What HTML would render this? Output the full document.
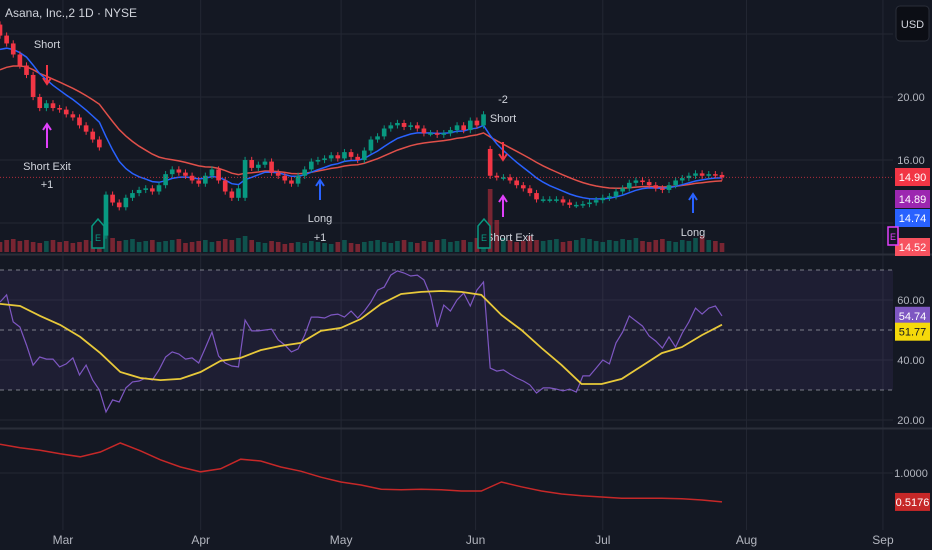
<!DOCTYPE html>
<html><head><meta charset="utf-8"><style>
html,body{margin:0;padding:0;background:#141823;}
svg{display:block;font-family:"Liberation Sans",sans-serif;}
</style></head><body>
<svg id="chart" width="932" height="550" viewBox="0 0 932 550" xmlns="http://www.w3.org/2000/svg">
<rect x="0" y="0" width="932" height="550" fill="#141823"/>
<g id="grid"></g>
<rect x="0" y="270" width="893" height="120" fill="#7e57c2" fill-opacity="0.1"/>
<g id="layer"></g>
<line x1="0" y1="254.5" x2="932" y2="254.5" stroke="#2a2e39" stroke-width="2"/>
<line x1="0" y1="428.5" x2="932" y2="428.5" stroke="#2a2e39" stroke-width="2"/>
<text x="5" y="17" fill="#d1d4dc" font-size="12">Asana, Inc.,2 1D · NYSE</text>
<g><rect x="896" y="6" width="33" height="35" rx="4" fill="#0c0e15" stroke="#2a2e39"/><text x="912.5" y="28" fill="#d1d4dc" font-size="11" text-anchor="middle">USD</text></g>
<g id="axis"></g>
<g id="marks"></g>
</svg>
<script>
const closes=[23.9,23.4,22.7,22.0,21.4,20.0,19.3,19.6,19.3,19.2,18.9,18.7,18.2,17.8,17.3,16.8,13.8,13.3,13.0,13.6,13.9,14.1,14.2,14.0,14.4,15.1,15.4,15.2,15.0,14.7,14.5,15.0,15.4,14.7,14.0,13.6,14.2,16.0,15.5,15.7,15.9,15.2,15.0,14.7,14.5,15.0,15.4,15.9,16.0,16.1,16.3,16.1,16.5,16.2,16.0,16.6,17.3,17.5,18.0,18.2,18.35,18.1,18.2,18.0,17.7,17.7,17.6,17.7,17.9,18.2,17.9,18.5,18.2,18.9,15.0,14.9,14.9,14.7,14.4,14.2,13.9,13.5,13.5,13.5,13.5,13.3,13.15,13.15,13.2,13.3,13.45,13.6,13.7,14.0,14.2,14.55,14.7,14.6,14.4,14.2,14.1,14.4,14.7,14.85,15.0,15.15,15.0,15.1,15.05,14.9];
const gapOpenIdx=[0,16,37,74];
const gapOpenVal=[24.6,11.2,13.6,16.7];
const volumes=[10,12,13,11,12,10,9,11,12,10,11,9,10,12,11,14,30,14,11,12,13,10,11,12,10,11,12,13,9,10,11,12,10,11,13,12,14,16,12,10,9,11,10,8,9,10,9,11,10,9,8,10,12,9,8,10,11,12,10,9,11,12,10,9,11,10,12,13,10,11,12,10,14,20,63,32,14,12,10,11,16,12,11,12,13,10,11,12,14,13,11,10,12,11,13,12,14,11,10,12,13,11,10,12,11,14,16,12,11,9];
const rsiValues=[59.3,61.7,52.7,51,45,38.3,41,40.3,40.3,37.7,38.7,40.7,35,38.3,33.3,30,22.7,26.7,26,30.7,32.7,33,34,33.3,36.7,41,42.7,42,40.3,40.7,39,44,49.3,41.3,39,38,37.7,53.3,49.7,49.7,50,50.3,46.7,45,42.7,43.7,48.3,54.3,54.3,54,55,55.3,54.3,56.3,54,56.3,59.3,63.3,64.3,68.3,69.7,69,68,68.3,66.7,61.3,51,58.3,56.3,60,62.3,58,63.3,66,37.3,36.3,36.7,35.3,34,33,31.7,29,30.7,30.7,30.3,29.7,30.3,29.3,34.7,34.7,37.3,40,38.7,45.7,49.3,54.7,53,51.3,48,46.3,44,47.7,44.3,49,52.7,57.3,55.3,57.3,58,54.7];
const rsiMA=[58.7,58,54.7,51.7,47.7,42.3,36,34,33.3,33.7,36,39.7,40.7,43.3,44.7,45.7,49.7,50.7,53.7,58.7,62,62.7,63,62.7,61.7,55,50,44,38.3,32,32,33.7,38,42.3,44.3,48.3,51.77];
const ratioValues=[1.48,1.42,1.38,1.32,1.27,1.35,1.5,1.37,1.22,1.1,1.02,1.07,1.23,1.2,1.1,1.03,0.93,0.85,0.8,0.73,0.72,0.73,0.72,0.7,0.7,0.85,0.77,0.7,0.65,0.62,0.6,0.58,0.58,0.58,0.57,0.55,0.5176];
const priceTicks=["20.00","16.00"];
const priceTickVals=[20,16];
const rsiTicks=["60.00","40.00","20.00"];
const rsiTickVals=[60,40,20];
const monthLabels=["Mar","Apr","May","Jun","Jul","Aug","Sep"];
const monthBarPos=[9.5,30.3,51.5,71.8,91,112.7,133.3];
const maSeeds=[21.5,22.8];

const NS="http://www.w3.org/2000/svg";
const PLOT_W=893, LAST_X=722;
const xBar=i=>i*LAST_X/(closes.length-1);
const xSparse=(i,n)=>i*LAST_X/(n-1);
const yPrice=p=>97+(20-p)*15.75;
const yRsi=v=>330-(v-50)*3;
const yRatio=v=>473+(1-v)*60;
function mk(tag,attrs,parent){const e=document.createElementNS(NS,tag);for(const k in attrs)e.setAttribute(k,attrs[k]);parent.appendChild(e);return e;}
const grid=document.getElementById('grid'),layer=document.getElementById('layer'),axis=document.getElementById('axis'),marks=document.getElementById('marks');

[24,20,16,12].forEach(p=>{const l=mk('line',{x1:0,x2:PLOT_W,y1:yPrice(p),y2:yPrice(p),stroke:'#232733'},grid);});
[60,40,20].forEach(v=>{const l=mk('line',{x1:0,x2:PLOT_W,y1:yRsi(v),y2:yRsi(v),stroke:'#232733'},grid);});
{const l=mk('line',{x1:0,x2:PLOT_W,y1:yRatio(1),y2:yRatio(1),stroke:'#232733'},grid);}
monthBarPos.forEach((b,i)=>{const x=xBar(b);const l=mk('line',{x1:x,x2:x,y1:0,y2:530,stroke:'#232733'},grid);
 const t=mk('text',{x:x,y:544,fill:'#b2b5be','font-size':12,'text-anchor':'middle'},axis);t.textContent=monthLabels[i];});

[70,50,30].forEach(v=>{const l=mk('line',{x1:0,x2:PLOT_W,y1:yRsi(v),y2:yRsi(v),stroke:'#9598a1','stroke-dasharray':'4 4','stroke-opacity':0.8},layer);});

const opens=closes.map((c,i)=>{const g=gapOpenIdx.indexOf(i);return g>=0?gapOpenVal[g]:(i>0?closes[i-1]:c);});
const bw=xBar(1)*0.7;
volumes.forEach((v,i)=>{const up=closes[i]>=opens[i];const r=mk('rect',{x:xBar(i)-bw/2,y:252-v,width:bw,height:v,fill:up?'#089981':'#f23645','fill-opacity':0.45},layer);});

function ema(arr,n,seed){const k=2/(n+1);let e=seed;return arr.map(v=>(e=v*k+e*(1-k)));}
function pathOf(vals,xf,yf){return vals.map((v,i)=>(i?'L':'M')+xf(i).toFixed(1)+' '+yf(v).toFixed(1)).join(' ');}
const emaSlow=ema(closes,20,maSeeds[0]),emaFast=ema(closes,9,maSeeds[1]);
{const p=mk('path',{d:pathOf(emaSlow,xBar,yPrice),fill:'none',stroke:'#e0504a','stroke-width':1.5},layer);}
{const p=mk('path',{d:pathOf(emaFast,xBar,yPrice),fill:'none',stroke:'#2962ff','stroke-width':1.5},layer);}

closes.forEach((c,i)=>{const o=opens[i];const up=c>=o;const col=up?'#089981':'#f23645';const x=xBar(i);
 const hi=Math.max(o,c)+0.2,lo=Math.min(o,c)-0.2;
 const w=mk('line',{x1:x,x2:x,y1:yPrice(hi),y2:yPrice(lo),stroke:col},layer);
 const top=yPrice(Math.max(o,c)),h=Math.max(1.5,Math.abs(yPrice(o)-yPrice(c)));
 const r=mk('rect',{x:x-bw/2,y:top,width:bw,height:h,fill:col},layer);});

{const l=mk('line',{x1:0,x2:PLOT_W,y1:yPrice(14.9),y2:yPrice(14.9),stroke:'#f23645','stroke-dasharray':'1 2','stroke-opacity':0.7},layer);}

{const p=mk('path',{d:pathOf(rsiValues,xBar,yRsi),fill:'none',stroke:'#7e57c2','stroke-width':1.2},layer);}
{const p=mk('path',{d:pathOf(rsiMA,i=>xSparse(i,rsiMA.length),yRsi),fill:'none',stroke:'#e8c93a','stroke-width':1.8},layer);}
{const p=mk('path',{d:pathOf(ratioValues,i=>xSparse(i,ratioValues.length),yRatio),fill:'none',stroke:'#c62828','stroke-width':1.5},layer);}

function axLabel(txt,y,name){const t=mk('text',{x:911,y:y+4,fill:'#b2b5be','font-size':11,'text-anchor':'middle'},axis);t.textContent=txt;}
priceTicks.forEach((t,i)=>axLabel(t,yPrice(priceTickVals[i]),'price-tick-label'));
rsiTicks.forEach((t,i)=>axLabel(t,yRsi(rsiTickVals[i]),'rsi-tick-label'));
axLabel('1.0000',yRatio(1),'ratio-tick-label');
function badge(txt,y,bg,fg,name){const g=mk('g',{},axis);
 mk('rect',{x:895,y:y-9,width:35,height:18,fill:bg},g);const t=mk('text',{x:912.5,y:y+4,fill:fg,'font-size':11,'text-anchor':'middle'},g);t.textContent=txt;}
badge('14.52',247,'#f7525f','#fff','ma-value-badge-3');
badge('14.90',177,'#f23645','#fff','last-price-badge');
badge('14.89',199,'#9c27b0','#fff','ma-value-badge-1');
badge('14.74',218,'#2962ff','#fff','ma-value-badge-2');
badge('54.74',yRsi(54.74),'#7e57c2','#fff','rsi-value-badge');
badge('51.77',yRsi(51.77)+7,'#f5d90a','#131722','rsi-ma-value-badge');
badge('0.5176',yRatio(0.5176),'#c62828','#fff','ratio-value-badge');

function txt(s,x,y,name,anchor){const t=mk('text',{x:x,y:y,fill:'#d1d4dc','font-size':11,'text-anchor':anchor||'middle'},marks);t.textContent=s;}
function arrow(x,y1,y2,col,name){const g=mk('g',{},marks);
 mk('line',{x1:x,x2:x,y1:y1,y2:y2,stroke:col,'stroke-width':2},g);const d=y2>y1?1:-1;mk('path',{d:`M${x-4} ${y2-d*6} L${x} ${y2} L${x+4} ${y2-d*6}`,fill:'none',stroke:col,'stroke-width':2},g);}
txt('Short',47,48,'short-label');arrow(47,65,84,'#f23645','short-arrow');
arrow(47,148,124,'#e040fb','short-exit-arrow');txt('Short Exit',47,170,'short-exit-label');txt('+1',47,188,'short-exit-qty');
arrow(320,200,180,'#2962ff','long-arrow');txt('Long',320,222,'long-label');txt('+1',320,241,'long-qty');
txt('-2',503,103,'short-qty-2');txt('Short',503,122,'short-label-2');arrow(503,142,160,'#f23645','short-arrow-2');
arrow(503,217,196,'#e040fb','short-exit-arrow-2');txt('Short Exit',486,241,'short-exit-label-2','start');
arrow(693,213,194,'#2962ff','long-arrow-2');txt('Long',693,236,'long-label-2');
function earn(x,col,name){const g=mk('g',{},marks);
 mk('path',{d:`M${x-6} 248 L${x-6} 226 L${x} 219 L${x+6} 226 L${x+6} 248 Z`,fill:'#141823',stroke:col,'stroke-width':1.5},g);
 const t=mk('text',{x:x,y:241,fill:col,'font-size':9,'text-anchor':'middle'},g);t.textContent='E';}
earn(98,'#089981','earnings-badge-1');earn(484,'#089981','earnings-badge-2');
{const g=mk('g',{},marks);
 mk('rect',{x:888,y:227,width:10,height:18,fill:'#141823',stroke:'#e040fb','stroke-width':1.5},g);const t=mk('text',{x:893,y:240,fill:'#e040fb','font-size':9,'text-anchor':'middle'},g);t.textContent='E';}
</script>
</body></html>
